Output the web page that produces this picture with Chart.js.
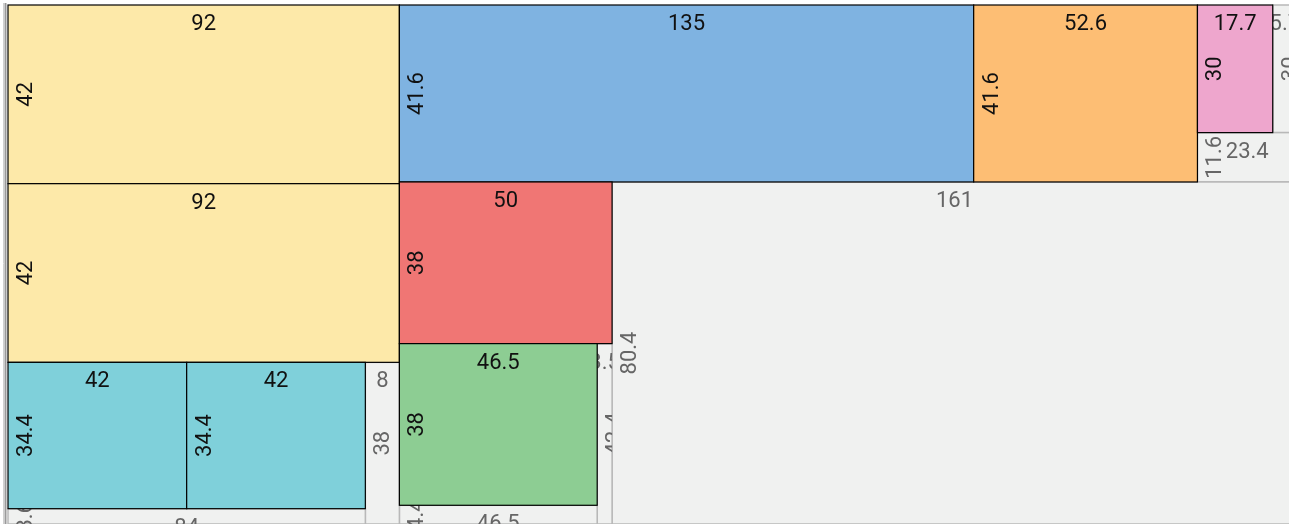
<!DOCTYPE html>
<html>
<head>
<meta charset="utf-8">
<script src="https://cdn.jsdelivr.net/npm/chart.js@4"></script>
<style>
  html, body { margin: 0; padding: 0; background: #fff; }
  #wrap { width: 1289px; height: 524px; }
</style>
</head>
<body>
<div id="wrap"><canvas id="sheet" width="1289" height="524"></canvas></div>
<script>
// sheet units: x to the right, y downward from the top-left corner
const pieceX = [0, 0, 0, 42, 92, 227, 279.6, 92, 92];
const pieceY = [0, 42, 84, 84, 0, 0, 0, 41.6, 79.6];
const pieceW = [92, 92, 42, 42, 135, 52.6, 17.7, 50, 46.5];
const pieceH = [42, 42, 34.4, 34.4, 41.6, 41.6, 30, 38, 38];
const pieceColors = ["#fde9a9", "#fde9a9", "#7fd0da", "#7fd0da", "#7fb3e1",
  "#fdbe74", "#eea6cd", "#f07674", "#8dcd93"];

const wasteX = [297.3, 279.6, 142, 138.5, 92, 84, 0];
const wasteY = [0, 30, 41.6, 79.6, 117.6, 84, 118.4];
const wasteW = [5.7, 23.4, 161, 3.5, 46.5, 8, 84];
const wasteH = [30, 11.6, 80.4, 42.4, 4.4, 38, 3.6];

const sheetH = 122;

function toRects(xs, ys, ws, hs) {
  return xs.map((x, i) => ({x: x, y: ys[i], w: ws[i], h: hs[i]}));
}

const rectPlugin = {
  id: "rects",
  afterDatasetsDraw(chart) {
    const ctx = chart.ctx;
    const sx = chart.scales.x;
    const sy = chart.scales.y;

    // sheet edge on the left
    ctx.save();
    ctx.strokeStyle = "#d0d0d0";
    ctx.lineWidth = 1;
    ctx.beginPath(); ctx.moveTo(3.5, 3); ctx.lineTo(3.5, 524); ctx.stroke();
    ctx.strokeStyle = "#9a9a9a";
    ctx.lineWidth = 2;
    ctx.beginPath(); ctx.moveTo(5.5, 3); ctx.lineTo(5.5, 524); ctx.stroke();
    ctx.restore();

    chart.data.datasets.forEach((ds) => {
      ds.data.forEach((r, i) => {
        const x0 = sx.getPixelForValue(r.x);
        const x1 = sx.getPixelForValue(r.x + r.w);
        const y0 = sy.getPixelForValue(r.y);
        const y1 = sy.getPixelForValue(r.y + r.h);
        const w = x1 - x0, h = y1 - y0;

        ctx.save();
        ctx.fillStyle = Array.isArray(ds.backgroundColor) ? ds.backgroundColor[i] : ds.backgroundColor;
        ctx.fillRect(x0, y0, w, h);
        ctx.strokeStyle = ds.borderColor;
        ctx.lineWidth = ds.borderWidth;
        ctx.strokeRect(x0, y0, w, h);

        // labels, clipped to their own rectangle
        ctx.beginPath();
        ctx.rect(x0, y0, w, h);
        ctx.clip();
        ctx.fillStyle = ds.labelColor;
        ctx.font = "22px Roboto";
        ctx.textAlign = "center";
        ctx.textBaseline = "middle";
        ctx.fillText(String(r.w), (x0 + x1) / 2, y0 + 19.5);
        ctx.translate(x0 + 18.5, (y0 + y1) / 2);
        ctx.rotate(-Math.PI / 2);
        ctx.fillText(String(r.h), 0, 0);
        ctx.restore();
      });
    });
  }
};

new Chart(document.getElementById("sheet"), {
  type: "scatter",
  data: {
    datasets: [
      {
        label: "Waste",
        data: toRects(wasteX, wasteY, wasteW, wasteH),
        backgroundColor: "#f0f1f0",
        borderColor: "#b8b8b8",
        borderWidth: 1.5,
        labelColor: "#666666",
        pointRadius: 0,
      },
      {
        label: "Pieces",
        data: toRects(pieceX, pieceY, pieceW, pieceH),
        backgroundColor: pieceColors,
        borderColor: "#000000",
        borderWidth: 1.2,
        labelColor: "#111111",
        pointRadius: 0,
      },
    ],
  },
  options: {
    responsive: false,
    animation: false,
    layout: {padding: {left: 8, top: 5, right: 0, bottom: 0}},
    plugins: {legend: {display: false}, tooltip: {enabled: false}},
    scales: {
      x: {type: "linear", display: false, min: 0, max: 1281 / (519 / sheetH)},
      y: {type: "linear", display: false, reverse: true, min: 0, max: sheetH},
    },
  },
  plugins: [rectPlugin],
});
</script>
</body>
</html>
